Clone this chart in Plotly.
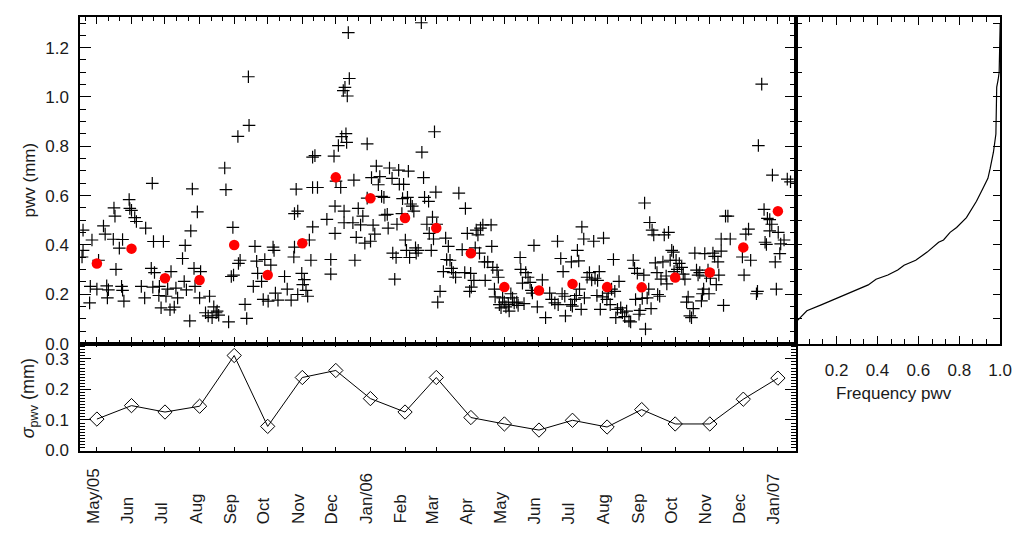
import plotly.graph_objects as go
import pandas as pd

# ---------------- data ----------------
month_labels = ["May/05", "Jun", "Jul", "Aug", "Sep", "Oct", "Nov", "Dec", "Jan/06", "Feb",
                "Mar", "Apr", "May", "Jun", "Jul", "Aug", "Sep", "Oct", "Nov", "Dec", "Jan/07"]

monthly_mean = [0.325, 0.385, 0.265, 0.258, 0.400, 0.278, 0.407, 0.674, 0.589, 0.509,
                0.469, 0.366, 0.229, 0.215, 0.242, 0.229, 0.228, 0.268, 0.288, 0.390, 0.537]

monthly_sigma = [0.103, 0.147, 0.126, 0.145, 0.311, 0.079, 0.239, 0.262, 0.170, 0.126,
                 0.239, 0.108, 0.087, 0.067, 0.099, 0.077, 0.134, 0.087, 0.087, 0.168, 0.237]

# days since 2005-05-01 and nightly pwv (mm)
scatter_day = [
    -12.4, -13.3, -12.4, -4.4, -6.5, -5.9, 0, 1.5, 5.9, 7.4, 8.8, 9.4, 10.3, 15.3, 16.2, 17.1, 14.7,
    20.1, 23, 22.1, 23, 24.2, 28.9, 29.5, 31, 33.9, 35.4, 39.8, 42.8, 43.7, 49.6, 50.7, 48.7, 51.6,
    50.1, 56, 57.5, 55.5, 59.6, 61.9, 63.4, 65.5, 66.4, 69.3, 70.8, 72.3, 76.7, 78.2, 79.1, 80.2,
    83.2, 84.1, 85.5, 87, 87.9, 90, 92.9, 92, 97.3, 99.7, 100.9, 103.2, 104.7, 106.8, 107.7, 109.1,
    114.5, 115.6, 118, 120.4, 121.8, 122.4, 126.8, 126.3, 128.3, 132.7, 134.2, 135.7, 136.3, 140.1,
    141.6, 143.1, 144, 147.5, 149, 150.4, 153.4, 155.8, 157.8, 158.7, 159.9, 162.2, 168.1, 170.5,
    174, 176.4, 177, 178.5, 177, 179.9, 179.9, 183.5, 184.4, 185.8, 187.3, 188.8, 190.3, 191.7,
    193.2, 193.2,
    195.3, 197.6, 193.3, 209.5, 209.5, 206, 212.4, 213.3, 213.3, 214.2, 216.3, 218.4, 219.3, 223.1,
    223.7, 220.7, 222.2, 224.3, 226.1, 225.2, 221.4, 221.4, 229.3, 230.2, 231.1, 232.3, 234.1,
    236.2, 238.2, 240, 242.1, 242.1, 245.1, 246, 247.4, 248.9, 250.3, 252.1, 253.4, 255, 257.1,
    258, 260.1, 260.9, 262.1, 264.4, 265, 266.8, 268, 268.8, 270.3, 270.9, 273.2, 273.8, 274.7,
    276.3, 277.3, 278.2, 279, 280.1, 281, 282.5, 283.9, 285.4, 286, 287.8, 290.6, 291.1, 292.6,
    293.5, 295.6, 297.1, 297.7, 299.5, 300.6, 301.5, 302.4, 303.6, 304.4, 305.3, 307.4, 310.4,
    312.4, 313.3, 314.8, 316.3, 317.7, 319.2, 321.3, 324.2, 327.2, 329.5, 330.1, 331.8, 333.9,
    334.8, 335.4, 337.7, 338.9, 339.8, 341.3, 342.7, 343.6, 345.7, 347.2, 347.8, 350.1, 353.1,
    353.7, 354.6, 356.1, 356.7, 358.4, 359.6, 360.5, 362, 363.4, 364.9, 366.4, 368.5, 369.3, 370.8,
    372.3, 373.8, 376.1, 377.3, 379.1, 379.7, 381.2, 382.6, 384.1, 386.2, 388, 389.2, 390.1, 391.5,
    394.5,
    399, 401.9, 405.6, 407.3, 410.2, 412.6, 413.2, 415.5, 416.7, 419.1, 417.6, 419.7, 425, 424.4,
    425.9, 427.9, 429.4, 432.3, 434.4, 433.8, 436.1, 436.7, 430.4, 431.6, 439.1, 441.2, 443.2, 445,
    446.2, 447.9, 448.5, 450, 450.9, 452.9, 453.8, 456.8, 458, 459.8, 461, 462.7, 463.9, 464.8,
    466.3, 467.7, 469.2, 470.7, 472.8, 474.5, 476.6, 478.1, 480.4, 481.6, 482.5, 484.1, 485.6,
    486.5, 488.5, 489.9, 490.6, 491.4, 492.9, 494.3, 495.2, 496.4, 497.3, 498.8, 500.2, 501.7,
    502.3, 504.1, 505.3, 507, 508.2, 509.9, 510.5, 512, 513.5, 514.9, 516.4, 517, 518.8, 519.9,
    521.7, 523.8, 525.2, 526.7, 528.2, 529.6, 531.1, 532.6, 534.2, 535.6, 537.1, 538.5, 540, 541.5,
    542.4, 543.5, 544.5, 546, 547.4, 548.3, 549.5, 551.8, 553.3, 554.8, 556.3, 557.1, 559.2, 559.2,
    561.3, 563.1, 565.2, 567.3, 578.2, 579.7, 581.3, 583.7, 585.6, 590.8, 591.7, 592.5, 595.5,
    597.6, 598.5, 599.7, 600.6, 602.7, 602.7, 604.5, 605.1, 607.6, 608.6, 610.3, 611.7, 612.5,
    615.5, 618.4, 621.3,
]
scatter_pwv = [
    0.46, 0.351, 0.378, 0.42, 0.165, 0.232, 0.221, 0.338, 0.477, 0.444, 0.234, 0.185, 0.218, 0.55,
    0.517, 0.301, 0.423, 0.387, 0.422, 0.232, 0.216, 0.172, 0.584, 0.548, 0.54, 0.511, 0.495, 0.232,
    0.185, 0.468, 0.65, 0.414, 0.305, 0.288, 0.229, 0.232, 0.145, 0.195, 0.414, 0.192, 0.221, 0.137,
    0.292, 0.148, 0.225, 0.185, 0.345, 0.252, 0.398, 0.218, 0.092, 0.457, 0.627, 0.305, 0.232,
    0.534, 0.292, 0.185, 0.125, 0.112, 0.192, 0.105, 0.149, 0.125, 0.132, 0.115, 0.712, 0.624,
    0.088, 0.272, 0.471, 0.278, 0.325, 0.84, 0.338, 0.159, 0.102, 1.082, 0.885, 0.232, 0.394, 0.334,
    0.285, 0.252, 0.179, 0.341, 0.172, 0.318, 0.391, 0.378, 0.205, 0.176, 0.272, 0.221, 0.176,
    0.351, 0.391, 0.626, 0.527, 0.537, 0.199, 0.285, 0.239, 0.259, 0.216, 0.192, 0.42, 0.338,
    0.756, 0.633,
    0.762, 0.633, 0.473, 0.341, 0.282, 0.504, 0.76, 0.557, 0.447, 0.659, 0.803, 0.633, 0.839, 0.851,
    0.816, 1.026, 1.039, 1.004, 1.075, 1.261, 0.537, 0.49, 0.49, 0.663, 0.338, 0.431, 0.548, 0.481,
    0.517, 0.407, 0.81, 0.59, 0.415, 0.673, 0.48, 0.444, 0.72, 0.644, 0.677, 0.597, 0.593, 0.521,
    0.524, 0.468, 0.712, 0.67, 0.367, 0.261, 0.349, 0.484, 0.703, 0.646, 0.527, 0.588, 0.646, 0.42,
    0.378, 0.593, 0.699, 0.349, 0.566, 0.557, 0.537, 0.388, 0.367, 0.378, 1.301, 0.776, 0.673,
    0.593, 0.484, 0.577, 0.447, 0.378, 0.513, 0.424, 0.859, 0.614, 0.484, 0.168, 0.212, 0.292,
    0.428, 0.341, 0.394, 0.338, 0.305, 0.288, 0.269, 0.61, 0.381, 0.288, 0.548, 0.447, 0.212,
    0.285, 0.229, 0.256, 0.388, 0.46, 0.441, 0.367, 0.468, 0.481, 0.331, 0.256, 0.331, 0.481,
    0.394, 0.309, 0.221, 0.189, 0.298, 0.269, 0.158, 0.145, 0.185, 0.168, 0.149, 0.158, 0.132,
    0.202, 0.185, 0.165, 0.168, 0.155, 0.349, 0.301, 0.245, 0.162, 0.288, 0.269, 0.248, 0.216,
    0.205, 0.398, 0.149,
    0.258, 0.105, 0.205, 0.179, 0.165, 0.415, 0.158, 0.345, 0.202, 0.192, 0.292, 0.112, 0.331, 0.158,
    0.152, 0.179, 0.195, 0.221, 0.473, 0.139, 0.424, 0.185, 0.378, 0.335, 0.269, 0.288, 0.258,
    0.415, 0.265, 0.195, 0.256, 0.292, 0.139, 0.189, 0.428, 0.179, 0.205, 0.158, 0.221, 0.341,
    0.212, 0.105, 0.139, 0.252, 0.145, 0.125, 0.109, 0.132, 0.092, 0.088, 0.338, 0.305, 0.179,
    0.285, 0.119, 0.135, 0.183, 0.278, 0.57, 0.059, 0.185, 0.221, 0.491, 0.142, 0.46, 0.441, 0.327,
    0.288, 0.199, 0.192, 0.261, 0.331, 0.441, 0.274, 0.242, 0.451, 0.338, 0.378, 0.371, 0.292,
    0.338, 0.301, 0.325, 0.309, 0.282, 0.261, 0.168, 0.189, 0.112, 0.105, 0.142, 0.367, 0.298,
    0.278, 0.288, 0.173, 0.202, 0.221, 0.365, 0.274, 0.298, 0.202, 0.265, 0.367, 0.354, 0.239,
    0.331, 0.278, 0.375, 0.424, 0.155, 0.517, 0.517, 0.424, 0.351, 0.278, 0.444, 0.464, 0.338,
    0.202, 0.212, 0.803, 1.052, 0.544, 0.411, 0.402, 0.508, 0.503, 0.457, 0.484, 0.683, 0.331,
    0.221, 0.451, 0.365, 0.404, 0.42, 0.667, 0.656,
]

# cumulative frequency of pwv
cdf_freq = [0.0, 0.055, 0.128, 0.186, 0.258, 0.355, 0.393, 0.451, 0.499, 0.53, 0.587, 0.643,
            0.699, 0.723, 0.755, 0.787, 0.835, 0.884, 0.916, 0.94, 0.951, 0.967, 0.979, 0.981,
            0.983, 0.99, 0.995, 1.0]
cdf_pwv = [0.086, 0.133, 0.158, 0.178, 0.205, 0.238, 0.261, 0.278, 0.298, 0.318, 0.338, 0.371,
           0.411, 0.42, 0.451, 0.471, 0.511, 0.577, 0.63, 0.67, 0.71, 0.776, 0.85, 1.0,
           1.04, 1.07, 1.1, 1.3]

# ---------------- figure ----------------
W, H = 1020, 533
FONT = "Liberation Sans, Arial, Helvetica, sans-serif"
TXT = "#1a1a1a"

base = pd.Timestamp("2005-05-01")
month_dates = pd.date_range(base, periods=len(month_labels), freq="MS")
scatter_dates = base + pd.to_timedelta(scatter_day, unit="D")
xrange_dates = ["2005-04-16", "2007-01-16 21:00"]

edges = pd.date_range("2005-04-01", periods=len(month_labels) + 2, freq="MS")
minor_dates = []
for a, b in zip(edges[:-1], edges[1:]):
    minor_dates += [a + (b - a) / 3, a + 2 * (b - a) / 3]

fig = go.Figure()
fig.add_trace(go.Scatter(
    x=scatter_dates, y=scatter_pwv, mode="markers", xaxis="x", yaxis="y",
    marker=dict(symbol="cross-thin", size=9, color="black", line=dict(width=1.2, color="black")),
    showlegend=False, hoverinfo="skip"))
fig.add_trace(go.Scatter(
    x=month_dates, y=monthly_mean, mode="markers", xaxis="x", yaxis="y",
    marker=dict(symbol="circle", size=10.5, color="#ff0000"), showlegend=False))
fig.add_trace(go.Scatter(
    x=month_dates, y=monthly_sigma, mode="lines+markers", xaxis="x2", yaxis="y2",
    line=dict(color="black", width=1),
    marker=dict(symbol="diamond-open", size=11, color="black", line=dict(width=1)),
    showlegend=False))
fig.add_trace(go.Scatter(
    x=cdf_freq, y=cdf_pwv, mode="lines", xaxis="x3", yaxis="y3",
    line=dict(color="black", width=1.2), showlegend=False))

xl, xm, xr = 73 / W, 797 / W, 1004 / W
y_top, y_mid, y_bot = 1 - 9 / H, 1 - 342 / H, 1 - 451 / H

common = dict(showline=True, linecolor="black", linewidth=1.5, showgrid=False, zeroline=False,
              ticks="inside", tickcolor="black", tickwidth=1, mirror="allticks",
              tickfont=dict(family=FONT, size=17, color=TXT))

fig.update_layout(
    width=W, height=H, margin=dict(l=0, r=0, t=0, b=0),
    paper_bgcolor="white", plot_bgcolor="white", showlegend=False,
    xaxis=dict(domain=[xl, xm], anchor="y", type="date", range=xrange_dates,
               tickmode="array", tickvals=month_dates, showticklabels=False, ticklen=7,
               minor=dict(tickmode="array", tickvals=minor_dates, ticks="inside", ticklen=4,
                          tickcolor="black"), **common),
    yaxis=dict(domain=[y_mid, y_top], anchor="x", range=[0, 1.325], tick0=0, dtick=0.2,
               tickformat=".1f", ticklen=11, ticklabelstandoff=6,
               minor=dict(dtick=0.05, ticks="inside", ticklen=6, tickcolor="black"), **common),
    xaxis2=dict(domain=[xl, xm], anchor="y2", type="date", range=xrange_dates,
                tickmode="array", tickvals=month_dates, showticklabels=False, ticklen=4, **common),
    yaxis2=dict(domain=[y_bot, y_mid], anchor="x2", range=[0, 0.35], tick0=0, dtick=0.1,
                tickformat=".1f", ticklen=11, ticklabelstandoff=6,
                minor=dict(dtick=0.01, ticks="inside", ticklen=5, tickcolor="black"), **common),
    xaxis3=dict(domain=[xm, xr], anchor="y3", range=[0, 1.0], tickmode="array",
                tickvals=[0.2, 0.4, 0.6, 0.8, 1.0], ticktext=["0.2", "0.4", "0.6", "0.8", "1.0"],
                ticklen=8, ticklabelstandoff=10,
                minor=dict(dtick=0.2 / 3, tick0=0, ticks="inside", ticklen=5,
                           tickcolor="black"), **common),
    yaxis3=dict(domain=[y_mid, y_top], anchor="x3", range=[0, 1.325], dtick=0.1,
                showticklabels=False, ticklen=7, **common),
)

annotations = [
    dict(text="pwv (mm)", x=22 / W, y=1 - 175 / H, xref="paper", yref="paper",
         xanchor="center", yanchor="middle",
         textangle=-90, showarrow=False, font=dict(family=FONT, size=17, color=TXT)),
    dict(text="<i>σ</i><sub>pwv</sub> (mm)", x=22 / W, y=1 - 398 / H, xref="paper", yref="paper",
         xanchor="center", yanchor="middle",
         textangle=-90, showarrow=False, font=dict(family=FONT, size=18, color=TXT)),
    dict(text="Frequency pwv", x=897 / W, y=1 - 393 / H, xref="paper", yref="paper",
         xanchor="center", yanchor="middle",
         showarrow=False, font=dict(family=FONT, size=17, color=TXT)),
]
for d, lab in zip(month_dates, month_labels):
    annotations.append(dict(text=lab, x=d, xref="x2", y=1 - 528 / H, yref="paper",
                            yanchor="bottom", xanchor="center", textangle=-90, xshift=-4,
                            showarrow=False, font=dict(family=FONT, size=17, color=TXT)))
fig.update_layout(annotations=annotations)

fig.write_html("out.html")
